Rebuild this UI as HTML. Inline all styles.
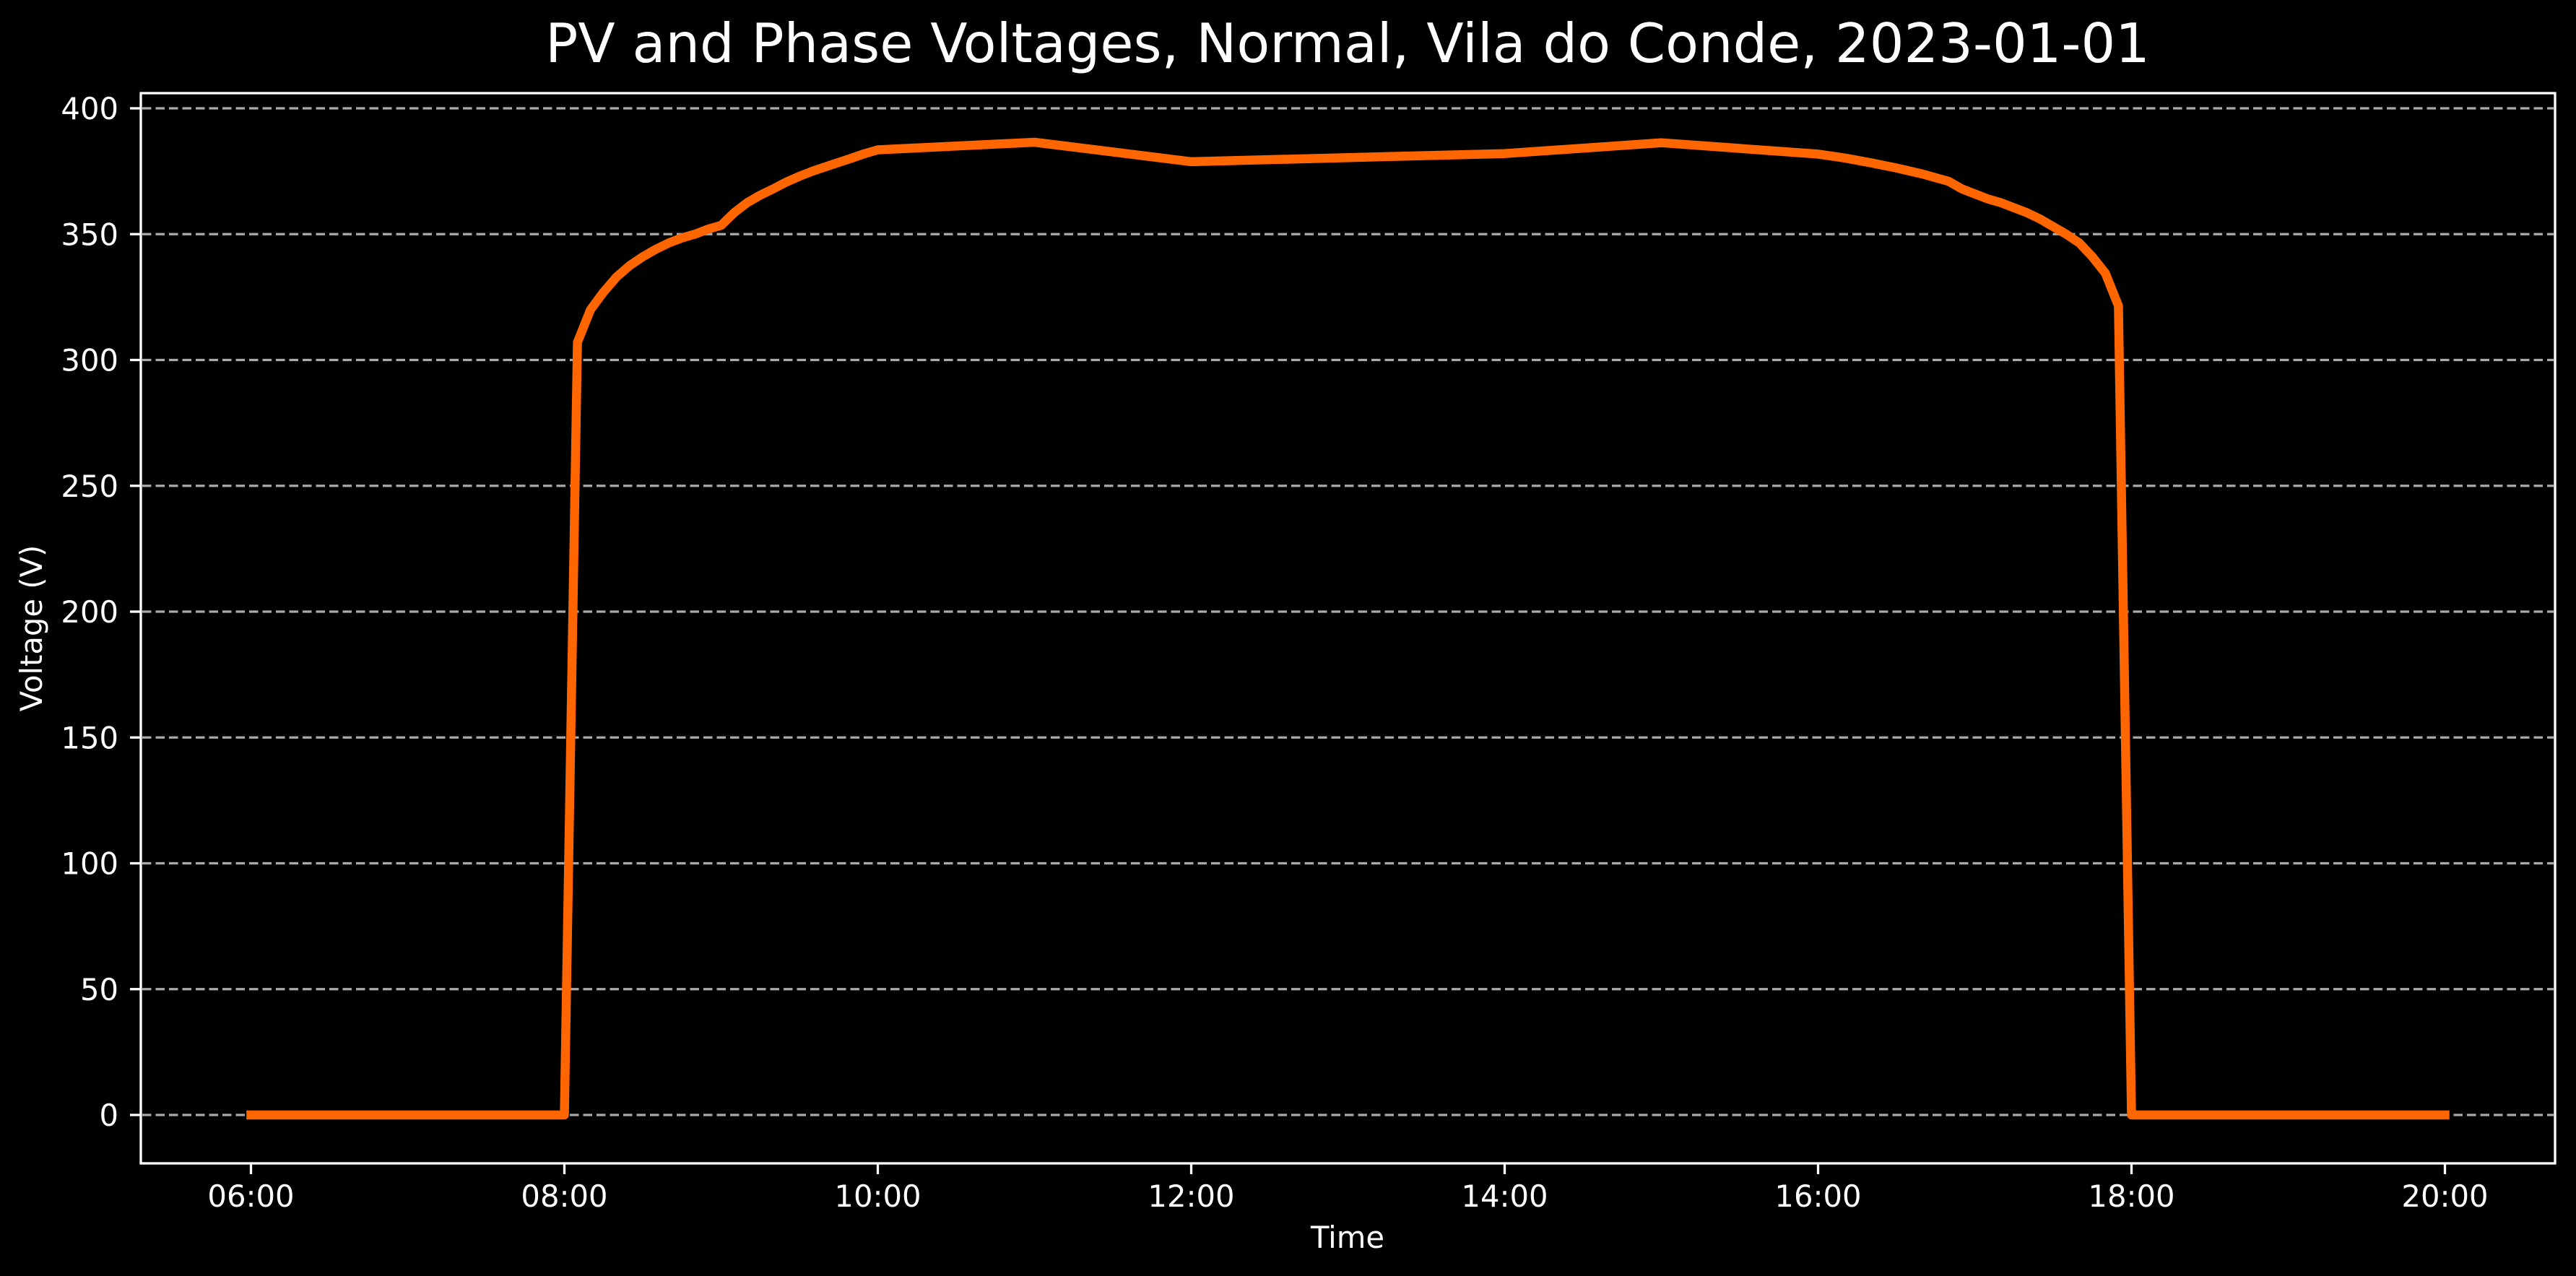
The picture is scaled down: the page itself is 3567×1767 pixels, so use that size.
<!DOCTYPE html>
<html><head><meta charset="utf-8"><style>
html,body{margin:0;padding:0;background:#000;}
svg{display:block;}
text{font-family:"DejaVu Sans","Liberation Sans",sans-serif;fill:#fff;}
</style></head><body>
<svg id="chart" width="3567" height="1767" viewBox="0 0 3567 1767" xmlns="http://www.w3.org/2000/svg">
<rect x="0" y="0" width="3567" height="1767" fill="#000"/>
<text x="1866" y="86" font-size="75" text-anchor="middle">PV and Phase Voltages, Normal, Vila do Conde, 2023-01-01</text>
<g id="grid"></g>
<g id="series"></g>
<rect x="195" y="129" width="3343" height="1482" fill="none" stroke="#fff" stroke-width="3.3"/>
<g id="yticks"></g>
<g id="xticks"></g>
<text x="1866" y="1728" font-size="41.7" text-anchor="middle">Time</text>
<text x="0" y="0" font-size="41.7" text-anchor="middle" transform="translate(58,870) rotate(-90)">Voltage (V)</text>
</svg>
<script>
const times = ["06:00","08:00","08:05","08:10","08:15","08:20","08:25","08:30","08:35","08:40","08:45","08:50","08:55","09:00","09:05","09:10","09:15","09:20","09:25","09:30","09:35","09:40","09:45","09:50","09:55","10:00","11:00","12:00","14:00","15:00","16:00","16:10","16:20","16:30","16:40","16:50","16:55","17:00","17:05","17:10","17:15","17:20","17:25","17:30","17:35","17:40","17:45","17:50","17:55","18:00","20:00"];
const voltages = [0,0,307,320,327,333,337.5,341,344,346.5,348.5,350,352,353.5,358.5,362.5,365.5,368,370.7,373,375,376.8,378.5,380.2,382,383.5,386.5,378.8,382,386.3,381.8,380.3,378.4,376.3,373.9,371,368,366,364,362.5,360.5,358.5,356,353,350,346.5,341,334.5,321.5,0,0];
const yTicks = [0,50,100,150,200,250,300,350,400];
const xTickLabels = ["06:00","08:00","10:00","12:00","14:00","16:00","18:00","20:00"];

const NS = "http://www.w3.org/2000/svg";
function toH(t){const p=t.split(":");return +p[0]+(+p[1])/60;}
function xs(h){return 347.5+(h-6)*217;}
function ys(v){return 1544-v*3.485;}
function mk(tag,attrs,parent){const e=document.createElementNS(NS,tag);for(const k in attrs)e.setAttribute(k,attrs[k]);parent.appendChild(e);return e;}

const grid=document.getElementById("grid"), yt=document.getElementById("yticks"), xt=document.getElementById("xticks"), series=document.getElementById("series");
yTicks.forEach(v=>{
  const y=ys(v);
  const g=mk("line",{x1:197,x2:3536,y1:y,y2:y,stroke:"#aaa","stroke-width":3.3,"stroke-dasharray":"12.5 6"},grid);
  
  
  const t=mk("line",{x1:180,x2:195,y1:y,y2:y,stroke:"#fff","stroke-width":3.3},yt);
  
  
  const l=mk("text",{x:164,y:y+15,"font-size":41.7,"text-anchor":"end"},yt);
  l.textContent=v;
  
  
});
xTickLabels.forEach(s=>{
  const x=xs(toH(s));
  const t=mk("line",{x1:x,x2:x,y1:1611,y2:1626,stroke:"#fff","stroke-width":3.3},xt);
  
  
  const l=mk("text",{x:x,y:1671,"font-size":41.7,"text-anchor":"middle"},xt);
  l.textContent=s;
  
  
});
const d=times.map((t,i)=>(i?"L":"M")+xs(toH(t)).toFixed(1)+","+ys(voltages[i]).toFixed(1)).join(" ");
const path=mk("path",{d:d,fill:"none",stroke:"#ff6600","stroke-width":12.5,"stroke-linejoin":"round","stroke-linecap":"square"},series);


</script>
</body></html>
